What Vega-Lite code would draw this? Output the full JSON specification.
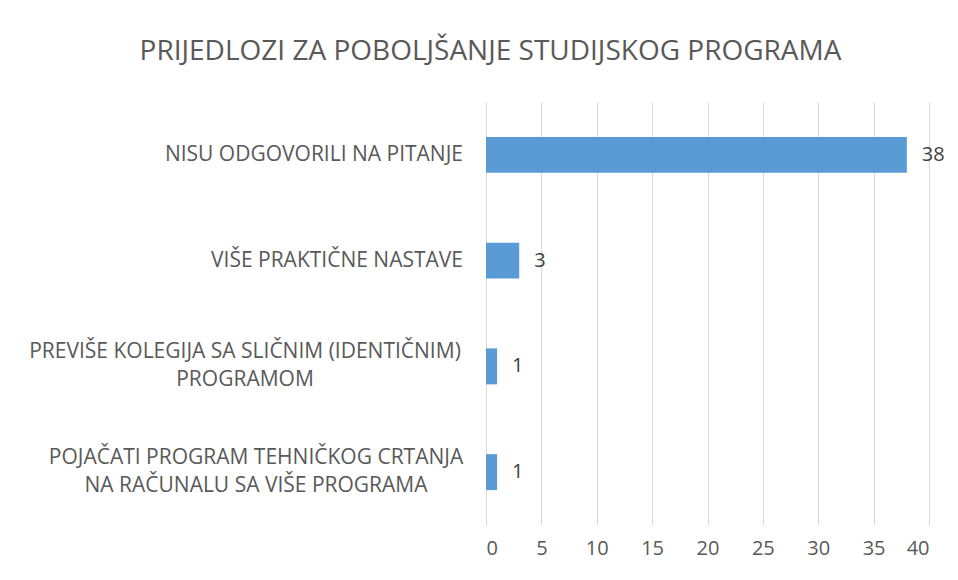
{
  "$schema": "https://vega.github.io/schema/vega-lite/v6.json",
  "width": 443,
  "height": 423,
  "autosize": {"type": "none"},
  "padding": {"left": 486, "top": 102, "right": 29, "bottom": 55},
  "background": "white",
  "title": {
    "text": "PRIJEDLOZI ZA POBOLJŠANJE STUDIJSKOG PROGRAMA",
    "font": "Open Sans",
    "fontSize": 28,
    "fontWeight": "normal",
    "color": "#595959",
    "anchor": "middle",
    "dx": -217,
    "offset": 36
  },
  "data": {
    "values": [
      {"kategorija": "NISU ODGOVORILI NA PITANJE", "broj": 38},
      {"kategorija": "VIŠE PRAKTIČNE NASTAVE", "broj": 3},
      {"kategorija": "PREVIŠE KOLEGIJA SA SLIČNIM (IDENTIČNIM)|PROGRAMOM", "broj": 1},
      {"kategorija": "POJAČATI PROGRAM TEHNIČKOG CRTANJA|NA RAČUNALU SA VIŠE PROGRAMA", "broj": 1}
    ]
  },
  "encoding": {
    "y": {
      "field": "kategorija",
      "type": "nominal",
      "sort": null,
      "scale": {"paddingInner": 0.66, "paddingOuter": 0.33},
      "axis": null
    }
  },
  "layer": [
    {
      "mark": {"type": "bar", "color": "#5B9BD5"},
      "encoding": {
        "x": {
          "field": "broj",
          "type": "quantitative",
          "scale": {"domain": [0, 40], "nice": false},
          "axis": {
            "title": null,
            "domain": false,
            "ticks": false,
            "grid": true,
            "gridColor": "#d9d9d9",
            "gridWidth": 1,
            "values": [0, 5, 10, 15, 20, 25, 30, 35, 40],
            "labelPadding": 13,
            "labelFont": "Open Sans",
            "labelFontSize": 20,
            "labelColor": "#595959"
          }
        }
      }
    },
    {
      "mark": {
        "type": "text",
        "align": "left",
        "baseline": "middle",
        "dx": 15,
        "font": "Open Sans",
        "fontSize": 20,
        "color": "#404040"
      },
      "encoding": {
        "x": {"field": "broj", "type": "quantitative"},
        "text": {"field": "broj", "type": "quantitative"}
      }
    },
    {
      "transform": [{"filter": "indexof(datum.kategorija, '|') < 0"}],
      "mark": {
        "type": "text",
        "align": "right",
        "baseline": "middle",
        "dx": -23,
        "font": "Open Sans",
        "fontSize": 21,
        "color": "#595959"
      },
      "encoding": {
        "x": {"datum": 0, "type": "quantitative"},
        "text": {"field": "kategorija"}
      }
    },
    {
      "transform": [{"filter": "indexof(datum.kategorija, 'PREVIŠE') >= 0"}],
      "mark": {
        "type": "text",
        "align": "center",
        "baseline": "middle",
        "lineBreak": "|",
        "lineHeight": 28,
        "dx": -241,
        "dy": -14,
        "font": "Open Sans",
        "fontSize": 21,
        "color": "#595959"
      },
      "encoding": {
        "x": {"datum": 0, "type": "quantitative"},
        "text": {"field": "kategorija"}
      }
    },
    {
      "transform": [{"filter": "indexof(datum.kategorija, 'POJAČATI') >= 0"}],
      "mark": {
        "type": "text",
        "align": "center",
        "baseline": "middle",
        "lineBreak": "|",
        "lineHeight": 28,
        "dx": -230,
        "dy": -14,
        "font": "Open Sans",
        "fontSize": 21,
        "color": "#595959"
      },
      "encoding": {
        "x": {"datum": 0, "type": "quantitative"},
        "text": {"field": "kategorija"}
      }
    }
  ],
  "config": {"view": {"stroke": null}}
}
